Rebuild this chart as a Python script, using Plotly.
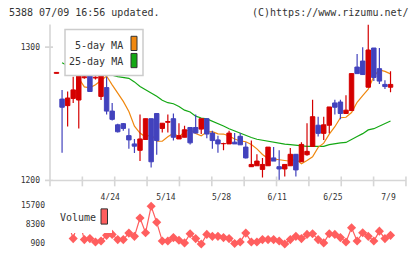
import plotly.graph_objects as go

# ---------------- data ----------------
date_labels = ["4/24", "5/14", "5/28", "6/11", "6/25", "7/9"]
date_label_idx = [10, 20, 30, 40, 50, 60]

opens = [1280.3, 1261.0, 1256.1, 1261.5, 1260.3, 1277.0, 1290.0, 1276.8, 1263.0, 1269.6,
         1252.0, 1241.7, 1242.6, 1233.6, 1227.4, 1222.6, 1230.7, 1246.3, 1250.2, 1239.0,
         1243.6, 1246.3, 1231.1, 1232.4, 1239.7, 1239.7, 1238.5, 1246.3, 1235.5, 1230.4,
         1227.6, 1227.4, 1228.7, 1233.1, 1225.0, 1210.3, 1211.0, 1208.3, 1211.0, 1216.9,
         1210.3, 1208.6, 1211.0, 1219.6, 1214.0, 1219.3, 1225.5, 1241.4, 1235.3, 1241.4,
         1258.1, 1258.8, 1250.2, 1252.4, 1285.0, 1289.5, 1269.9, 1299.3, 1283.8, 1272.0,
         1269.9]
highs = [1281.0, 1267.9, 1266.7, 1277.7, 1292.0, 1281.5, 1293.0, 1278.2, 1290.0, 1277.7,
         1258.1, 1242.5, 1243.0, 1239.0, 1231.1, 1249.5, 1246.3, 1246.3, 1250.2, 1242.9,
         1249.5, 1250.2, 1242.9, 1241.0, 1239.7, 1249.5, 1246.3, 1246.3, 1237.3, 1233.6,
         1228.2, 1237.3, 1235.5, 1235.5, 1228.7, 1229.9, 1219.6, 1216.9, 1225.0, 1225.0,
         1222.6, 1212.0, 1224.3, 1219.6, 1228.7, 1242.9, 1260.5, 1247.8, 1247.8, 1255.1,
         1260.5, 1260.5, 1263.8, 1280.1, 1294.9, 1299.8, 1317.0, 1299.3, 1299.3, 1275.2,
         1281.8]
lows = [1280.3, 1220.8, 1240.4, 1258.0, 1239.0, 1276.2, 1266.7, 1275.7, 1260.3, 1249.5,
        1245.0, 1236.0, 1237.3, 1223.8, 1220.6, 1214.5, 1230.7, 1209.8, 1219.3, 1236.0,
        1236.0, 1229.9, 1231.1, 1232.4, 1227.0, 1235.5, 1234.8, 1231.6, 1223.8, 1220.8,
        1222.6, 1227.4, 1227.4, 1226.7, 1216.4, 1210.3, 1211.0, 1202.2, 1211.0, 1214.5,
        1199.8, 1202.9, 1211.0, 1202.9, 1214.0, 1218.6, 1225.5, 1232.9, 1230.4, 1235.3,
        1249.5, 1245.8, 1250.2, 1252.4, 1280.1, 1279.4, 1269.9, 1274.5, 1272.3, 1268.6,
        1266.2]
closes = [1281.0, 1254.9, 1261.8, 1267.9, 1286.0, 1277.8, 1266.7, 1277.4, 1285.0, 1252.0,
          1245.8, 1236.5, 1239.0, 1230.4, 1225.7, 1231.1, 1246.3, 1214.0, 1229.9, 1242.9,
          1244.2, 1232.4, 1233.6, 1238.0, 1228.2, 1235.5, 1246.3, 1234.8, 1229.9, 1227.4,
          1228.0, 1235.5, 1227.4, 1226.7, 1216.9, 1212.0, 1214.5, 1212.0, 1225.0, 1214.5,
          1208.6, 1212.0, 1219.6, 1207.9, 1227.0, 1221.8, 1247.8, 1235.3, 1241.7, 1255.1,
          1254.9, 1250.2, 1252.7, 1280.1, 1280.1, 1279.4, 1297.8, 1277.2, 1274.5, 1270.4,
          1272.0]

ma5 = [None, None, None, None, 1276.5, 1270.1, 1269.5, 1271.8, 1274.9, 1278.3,
       1271.7, 1265.4, 1259.3, 1251.7, 1240.7, 1235.5, 1232.5, 1234.5, 1229.5, 1229.4,
       1232.8, 1235.4, 1232.6, 1236.5, 1238.2, 1235.2, 1233.5, 1236.3, 1236.6, 1234.9,
       1234.8, 1233.3, 1231.1, 1229.6, 1229.0, 1226.9, 1223.7, 1219.5, 1216.4, 1216.1,
       1215.6, 1214.9, 1214.4, 1215.9, 1212.5, 1215.0, 1217.7, 1224.8, 1228.0, 1234.7,
       1240.3, 1247.0, 1247.4, 1250.9, 1258.6, 1263.6, 1268.5, 1278.0, 1282.9, 1281.8,
       1279.9]
ma25 = [None, 1288.2, 1286.0, 1284.6, 1283.8, 1283.1, 1282.4, 1281.6, 1280.9, 1280.1,
        1279.0, 1277.9, 1277.2, 1276.6, 1273.9, 1270.4, 1268.0, 1265.8, 1263.1, 1260.1,
        1258.3, 1257.5, 1255.5, 1252.7, 1251.3, 1248.2, 1246.8, 1246.2, 1244.6, 1242.8,
        1240.8, 1238.8, 1237.1, 1235.7, 1233.8, 1232.2, 1230.9, 1230.1, 1229.3, 1228.7,
        1228.2, 1227.2, 1226.8, 1226.3, 1225.9, 1225.5, 1225.5, 1225.5, 1225.5, 1226.8,
        1227.7, 1228.1, 1228.5, 1230.4, 1232.9, 1235.1, 1237.9, 1238.8, 1240.8, 1242.8,
        1244.6]

volume = [7000, 7800, 9300, 2783, 10400, 2406, 2783, 1503, 1879, 4026,
          4402, 2406, 2406, 4892, 3649, 10692, 5043, 15200, 9035, 1879,
          1879, 3160, 2143, 1126, 4666, 2783, 700, 4402, 3649, 3649,
          3160, 2783, 900, 1503, 4892, 1503, 1503, 2406, 2406, 2406,
          1879, 700, 2406, 3649, 2783, 4402, 4666, 2406, 1126, 4666,
          4402, 3160, 1503, 6926, 1879, 5043, 3649, 1879, 5645, 2783,
          4026]
vol_ticks = [900, 8300, 15700]
price_ticks = [1200, 1300]

# ---------------- layout helpers (pixels) ----------------
W, H = 420, 259
L, R, T, B = 50, 406, 25, 184
X0, DX = 56.5, 5.567
def px(x):
    return (x - L) / (R - L)
def py(y):
    return 1 - y / H

UP = "#d40000"
DOWN = "#4242bd"
MA5C = "#f0880f"
MA25C = "#14a814"
VOLC = "#ff5e5e"
MONO = "DejaVu Sans Mono"

n = len(closes)
idx = list(range(n))

fig = go.Figure()

# moving averages (drawn below candles)
fig.add_trace(go.Scatter(x=idx, y=ma25, mode="lines", line=dict(color=MA25C, width=1.2),
                         hoverinfo="skip", showlegend=False))
fig.add_trace(go.Scatter(x=idx, y=ma5, mode="lines", line=dict(color=MA5C, width=1.2),
                         hoverinfo="skip", showlegend=False))

# candles
for up, col in ((True, UP), (False, DOWN)):
    sel = [i for i in idx if (closes[i] >= opens[i]) == up]
    wx, wy, bx, by = [], [], [], []
    hw = 0.4
    for i in sel:
        wx += [i, i, None]
        wy += [lows[i], highs[i], None]
        o, c = opens[i], closes[i]
        bx += [i - hw, i + hw, i + hw, i - hw, i - hw, None]
        by += [o, o, c, c, o, None]
    fig.add_trace(go.Scatter(x=wx, y=wy, mode="lines", line=dict(color=col, width=1.2),
                             hoverinfo="skip", showlegend=False))
    fig.add_trace(go.Scatter(x=bx, y=by, mode="lines", fill="toself", fillcolor=col,
                             line=dict(color=col, width=1), hoverinfo="skip", showlegend=False))

# volume
fig.add_trace(go.Scatter(x=idx, y=volume, mode="lines+markers", xaxis="x2", yaxis="y2",
                         line=dict(color=VOLC, width=1.2),
                         marker=dict(symbol="diamond", size=7, color=VOLC),
                         cliponaxis=True, hoverinfo="skip", showlegend=False))

shapes = []
axc = "#d6d6d6"
# axes lines
shapes.append(dict(type="line", xref="paper", yref="paper", x0=px(50), x1=px(50),
                   y0=py(25), y1=py(190), line=dict(color=axc, width=1.6)))
shapes.append(dict(type="line", xref="paper", yref="paper", x0=px(45), x1=px(406),
                   y0=py(184), y1=py(184), line=dict(color=axc, width=1.6)))
for v in price_ticks:
    shapes.append(dict(type="line", xref="paper", yref="y", x0=px(45), x1=px(53),
                       y0=v, y1=v, line=dict(color=axc, width=1.6)))
for k in range(1, 12):
    xp = 50 + 32.36 * k
    shapes.append(dict(type="line", xref="paper", yref="paper", x0=px(xp), x1=px(xp),
                       y0=py(180), y1=py(190), line=dict(color=axc, width=1.6)))
# main legend box
shapes.append(dict(type="rect", xref="paper", yref="paper", layer="above",
                   x0=px(65), x1=px(143), y0=py(30), y1=py(77),
                   fillcolor="white", line=dict(color="#cccccc", width=1.5)))
shapes.append(dict(type="rect", xref="paper", yref="paper", layer="above",
                   x0=px(131), x1=px(137), y0=py(37), y1=py(51.5),
                   fillcolor=MA5C, line=dict(color="#333333", width=1)))
shapes.append(dict(type="rect", xref="paper", yref="paper", layer="above",
                   x0=px(131), x1=px(137), y0=py(54.5), y1=py(69),
                   fillcolor=MA25C, line=dict(color="#333333", width=1)))
# volume legend
shapes.append(dict(type="rect", xref="paper", yref="paper", layer="above",
                   x0=px(50), x1=px(112), y0=py(204), y1=py(237.5),
                   fillcolor="white", line=dict(width=0)))
shapes.append(dict(type="rect", xref="paper", yref="paper", layer="above",
                   x0=px(101), x1=px(107.5), y0=py(213), y1=py(228.5),
                   fillcolor=VOLC, line=dict(color="#333333", width=1)))

tc = "#333333"
annotations = [
    dict(text="5388 07/09 16:56 updated.", xref="paper", yref="paper", x=px(7), y=py(12.5),
         xanchor="left", yanchor="middle", showarrow=False, font=dict(family=MONO, size=10, color=tc)),
    dict(text="(C)https://www.rizumu.net/", xref="paper", yref="paper", x=px(411), y=py(12.5),
         xanchor="right", yanchor="middle", showarrow=False, font=dict(family=MONO, size=10, color=tc)),
    dict(text="5-day MA", xref="paper", yref="paper", x=px(125), y=py(46),
         xanchor="right", yanchor="middle", showarrow=False, font=dict(family=MONO, size=10, color=tc)),
    dict(text="25-day MA", xref="paper", yref="paper", x=px(125), y=py(62.5),
         xanchor="right", yanchor="middle", showarrow=False, font=dict(family=MONO, size=10, color=tc)),
    dict(text="Volume", xref="paper", yref="paper", x=px(57.5), y=py(221.5),
         xanchor="left", yanchor="middle", showarrow=False, font=dict(family=MONO, size=10, color=tc)),
]

xr = [(L - X0) / DX, (R - X0) / DX]
ticksfont = dict(family=MONO, size=8, color=tc)
VPX = (15700 - 900) / (248.3 - 209)   # volume units per pixel
fig.update_layout(
    width=W, height=H, margin=dict(l=L, r=W - R, t=0, b=0),
    paper_bgcolor="white", plot_bgcolor="white",
    showlegend=False, shapes=shapes, annotations=annotations,
    xaxis=dict(domain=[0, 1], range=xr, anchor="y", showgrid=False, zeroline=False,
               showline=False, ticks="", tickmode="array", tickvals=date_label_idx,
               ticktext=date_labels, tickfont=ticksfont, ticklabelstandoff=11,
               ticklabelshift=-2),
    yaxis=dict(domain=[py(184), py(25)], range=[1200, 1200 + (184 - 25) / 1.36],
               anchor="x", showgrid=False, zeroline=False, showline=False, ticks="",
               tickmode="array", tickvals=price_ticks, ticktext=[str(v) for v in price_ticks],
               tickfont=ticksfont, ticklabelstandoff=9),
    xaxis2=dict(domain=[0, 1], matches="x", anchor="y2", visible=False),
    yaxis2=dict(domain=[py(255.3), py(204)], range=[900 - 7 * VPX, 15700 + 5 * VPX], anchor="x2",
                showgrid=False, zeroline=False, showline=False, ticks="",
                tickmode="array", tickvals=vol_ticks, ticktext=[str(v) for v in vol_ticks],
                tickfont=ticksfont, ticklabelstandoff=4),
)

fig.write_html("out.html")
